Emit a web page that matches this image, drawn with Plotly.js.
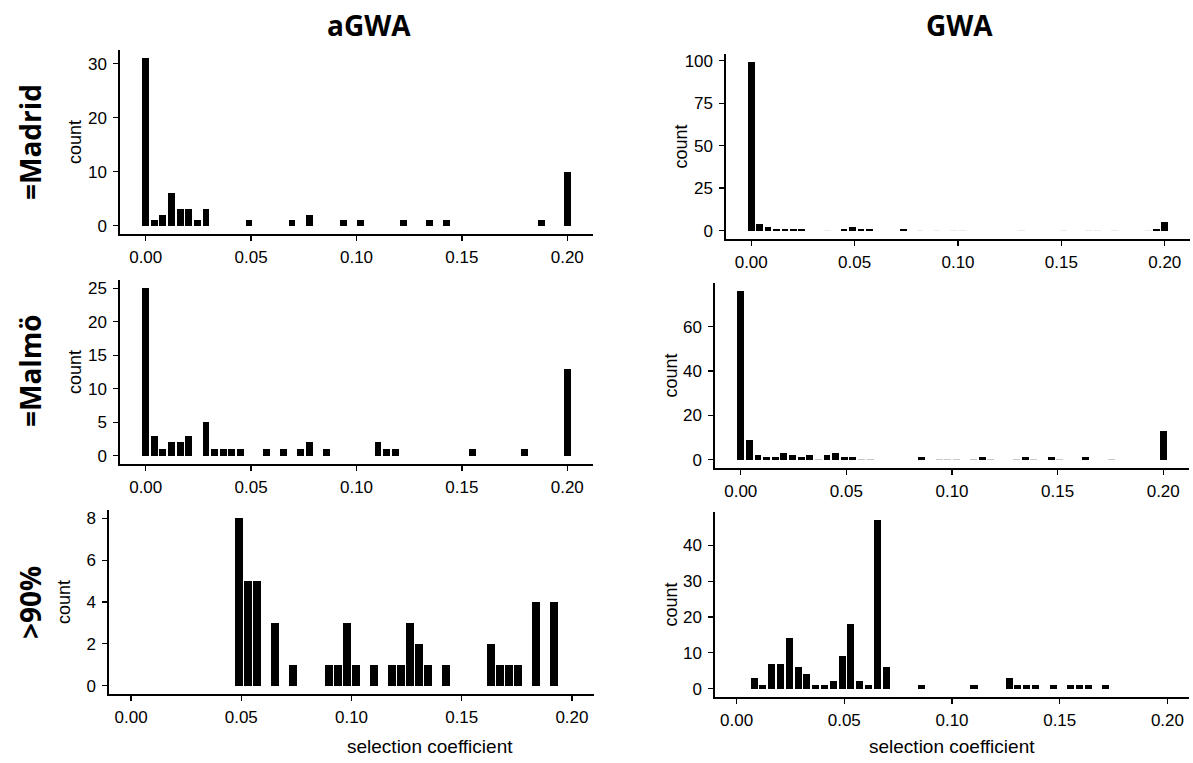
<!DOCTYPE html>
<html>
<head>
<meta charset="utf-8">
<script src="https://cdn.plot.ly/plotly-3.0.1.min.js"></script>
<style>html,body{margin:0;padding:0;background:#fff;}#chart{width:1193px;height:763px;}</style>
</head>
<body>
<div id="chart"></div>
<script>
// Histogram bins: 50 bins of width 0.2/49 centred on k*0.2/49
const binCount = 50;
const sMax = 0.2;

const columnTitles = ["aGWA", "GWA"];
const rowTitles = ["=Madrid", "=Malmö", ">90%"];
const xTitle = "selection coefficient";
const yTitle = "count";
const xTickVals = [0, 0.05, 0.10, 0.15, 0.20];

// aGWA, =Madrid
const agwaMadridBins   = [0,1,2,3,4,5,6,7,12,17,19,23,25,30,33,35,46,49];
const agwaMadridCounts = [31,1,2,6,3,3,1,3,1,1,2,1,1,1,1,1,1,10];
// GWA, =Madrid
const gwaMadridBins   = [0,1,2,3,4,5,6,11,12,13,14,18,48,49];
const gwaMadridCounts = [99,4,2,1,1,1,1,1,2,1,1,1,1,5];
const gwaMadridEmptyBins = [9,20,22,24,25,32,37,40,41,43,47];
// aGWA, =Malmö
const agwaMalmoBins   = [0,1,2,3,4,5,7,8,9,10,11,14,16,18,19,21,27,28,29,38,44,49];
const agwaMalmoCounts = [25,3,1,2,2,3,5,1,1,1,1,1,1,1,2,1,2,1,1,1,1,13];
// GWA, =Malmö
const gwaMalmoBins   = [0,1,2,3,4,5,6,7,8,10,11,12,13,21,28,33,36,40,49];
const gwaMalmoCounts = [76,9,2,1,1,3,2,1,2,2,3,1,1,1,1,1,1,1,13];
const gwaMalmoEmptyBins = [9,14,15,23,24,25,27,29,32,34,37,43];
// aGWA, >90%
const agwa90Bins   = [12,13,14,16,18,22,23,24,25,27,29,30,31,32,33,35,40,41,42,43,45,47];
const agwa90Counts = [8,5,5,3,1,1,1,3,1,1,1,1,3,2,1,1,2,1,1,1,4,4];
// GWA, >90%
const gwa90Bins   = [2,3,4,5,6,7,8,9,10,11,12,13,14,15,16,17,21,27,31,32,33,34,36,38,39,40,42];
const gwa90Counts = [3,1,7,7,14,6,4,1,1,2,9,18,2,1,47,6,1,1,3,1,1,1,1,1,1,1,1];

const yTicks = [
  [0,10,20,30], [0,25,50,75,100],
  [0,5,10,15,20,25], [0,20,40,60],
  [0,2,4,6,8], [0,10,20,30,40]
];

const binW = sMax / (binCount - 1);
const centre = k => k * binW;

const W = 1193, H = 763;
// panel pixel boxes [left, right, top, bottom]
const boxes = [
  [120, 593, 50, 234], [726, 1190, 54, 239],
  [120, 593, 280, 464], [715, 1189, 283, 468],
  [109, 594, 510, 694], [715, 1189, 512, 697]
];
const xRanges = [
  [-0.0122, 0.2122], [-0.0122, 0.2122],
  [-0.0122, 0.2122], [-0.0122, 0.2122],
  [-0.01, 0.21], [-0.01, 0.21]
];
const panels = [
  {bins: agwaMadridBins, counts: agwaMadridCounts},
  {bins: gwaMadridBins, counts: gwaMadridCounts, empty: gwaMadridEmptyBins, emptyColor: '#ececec'},
  {bins: agwaMalmoBins, counts: agwaMalmoCounts},
  {bins: gwaMalmoBins, counts: gwaMalmoCounts, empty: gwaMalmoEmptyBins, emptyColor: '#c8c8c8'},
  {bins: agwa90Bins, counts: agwa90Counts},
  {bins: gwa90Bins, counts: gwa90Counts}
];

const tickFont = {family: 'Liberation Sans, Arial, sans-serif', size: 17, color: '#000'};
const data = [];
const layout = {
  width: W, height: H,
  margin: {l: 0, r: 0, t: 0, b: 0},
  paper_bgcolor: '#fff', plot_bgcolor: '#fff',
  showlegend: false,
  bargap: 0,
  annotations: []
};

panels.forEach((p, i) => {
  const n = i + 1;
  const xa = 'x' + (n === 1 ? '' : n), ya = 'y' + (n === 1 ? '' : n);
  const maxC = Math.max(...p.counts);
  if (p.empty) {
    data.push({
      type: 'bar', xaxis: xa, yaxis: ya,
      x: p.empty.map(centre), y: p.empty.map(() => maxC * 0.006),
      width: binW * 0.8,
      marker: {color: p.emptyColor, line: {width: 0}},
      hoverinfo: 'skip'
    });
  }
  data.push({
    type: 'bar', xaxis: xa, yaxis: ya,
    x: p.bins.map(centre), y: p.counts,
    width: binW * 0.8,
    marker: {color: '#000', line: {width: 0}}
  });
  const b = boxes[i];
  const axCommon = {
    showgrid: false, zeroline: false, showline: true,
    linecolor: '#000', linewidth: 1.6,
    ticks: 'outside', ticklen: 5, tickwidth: 1.3, tickcolor: '#000',
    tickfont: tickFont, fixedrange: true
  };
  layout['xaxis' + (n === 1 ? '' : n)] = Object.assign({}, axCommon, {
    domain: [b[0] / W, b[1] / W],
    anchor: ya,
    range: xRanges[i],
    tickvals: xTickVals, tickformat: '.2f',
    ticklabelstandoff: 2
  });
  layout['yaxis' + (n === 1 ? '' : n)] = Object.assign({}, axCommon, {
    domain: [1 - b[3] / H, 1 - b[2] / H],
    anchor: xa,
    range: [-0.05 * maxC, 1.05 * maxC],
    tickvals: yTicks[i],
    ticklabelstandoff: 3
  });
  // y axis title "count"
  layout.annotations.push({
    xref: 'paper', yref: 'paper',
    x: (b[0] - 45) / W, y: 1 - ((b[2] + b[3]) / 2) / H,
    xanchor: 'center', yanchor: 'middle',
    text: yTitle, textangle: -90, showarrow: false,
    font: {family: 'Liberation Sans Narrow, Liberation Sans, Arial, sans-serif', size: 18, color: '#000'}
  });
});

// column titles
const colCentres = [369, 960];
columnTitles.forEach((t, j) => {
  layout.annotations.push({
    xref: 'paper', yref: 'paper', x: colCentres[j] / W, y: 1 - 25 / H,
    xanchor: 'center', yanchor: 'middle', text: '<b>' + t + '</b>', showarrow: false,
    font: {family: 'Open Sans, sans-serif', size: 28, color: '#000'}
  });
});
// row titles
const rowCentres = [142, 370, 602];
rowTitles.forEach((t, j) => {
  layout.annotations.push({
    xref: 'paper', yref: 'paper', x: 30 / W, y: 1 - rowCentres[j] / H,
    xanchor: 'center', yanchor: 'middle', text: '<b>' + t + '</b>', textangle: -90, showarrow: false,
    font: {family: 'Open Sans, sans-serif', size: 28, color: '#000'}
  });
});
// x axis titles
const xTitleCentres = [430, 952];
xTitleCentres.forEach(cx => {
  layout.annotations.push({
    xref: 'paper', yref: 'paper', x: cx / W, y: 1 - 746 / H,
    xanchor: 'center', yanchor: 'middle', text: xTitle, showarrow: false,
    font: {family: 'Liberation Sans, Arial, sans-serif', size: 19, color: '#000'}
  });
});

Plotly.newPlot('chart', data, layout, {staticPlot: true, displayModeBar: false});
</script>
</body>
</html>
